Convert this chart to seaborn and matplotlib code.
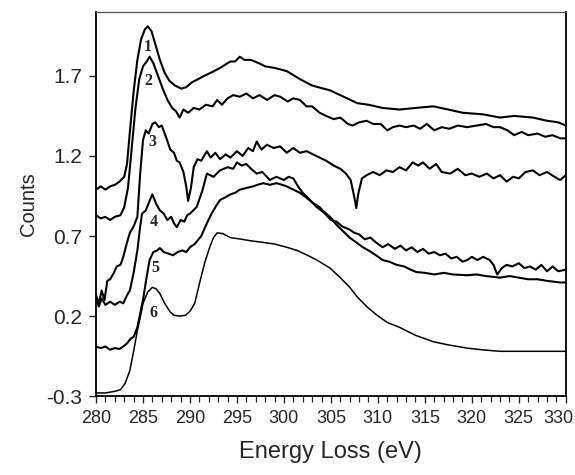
import matplotlib
matplotlib.use("Agg")
import matplotlib.pyplot as plt
from matplotlib.ticker import MultipleLocator, FixedLocator
from matplotlib.transforms import ScaledTranslation
import seaborn as sns
import pandas as pd

# ---- data ----
x1 = [280, 280.5, 281, 281.5, 282, 282.5, 283, 283.3, 283.6, 284, 284.4, 284.8, 285.2, 285.5, 285.9,
      286.3, 286.8, 287.3, 287.8, 288.4, 289.1, 289.6, 290.2, 290.7, 291.5, 292.4, 293.2, 294.3, 294.8,
      295.3, 295.8, 296.5, 297.3, 298, 299, 300.3, 301.7, 303, 304.9, 306, 307.8, 309, 310.5, 312.3,
      314, 315.9, 317.5, 319, 321.2, 323, 324.5, 326.5, 328, 329.2, 330]
y1 = [0.99, 1.01, 0.99, 1.01, 1.02, 1.04, 1.07, 1.15, 1.35, 1.60, 1.80, 1.93, 1.99, 2.01, 1.98,
      1.90, 1.80, 1.72, 1.67, 1.64, 1.62, 1.63, 1.66, 1.675, 1.70, 1.725, 1.75, 1.79, 1.79,
      1.82, 1.80, 1.80, 1.78, 1.76, 1.75, 1.73, 1.68, 1.64, 1.61, 1.58, 1.53, 1.52, 1.50, 1.49,
      1.50, 1.51, 1.49, 1.47, 1.46, 1.44, 1.45, 1.44, 1.42, 1.41, 1.39]

x2 = [280, 280.5, 281, 281.5, 282, 282.6, 283, 283.4, 283.8, 284.2, 284.6, 285, 285.4, 285.7, 286.1,
      286.6, 287.1, 287.6, 288.1, 288.5, 288.9, 289.3, 289.8, 290.4, 291, 291.7, 292.4, 292.9, 293.4,
      294, 294.6, 295.3, 296, 296.7, 297.4, 298.2, 299, 299.6, 300.4, 301, 301.7, 302.4, 303, 303.8,
      304.5, 305.3, 306, 306.8, 307.3, 308, 308.8, 309.5, 310.3, 311, 311.6, 312.3, 313, 313.8, 314.5,
      315.2, 316, 316.8, 317.6, 318.5, 319.5, 320.5, 321.5, 322.3, 323, 323.8, 324.5, 325.3, 326, 327,
      327.8, 328.6, 329.4, 330]
y2 = [0.83, 0.81, 0.82, 0.80, 0.82, 0.83, 0.88, 1.00, 1.25, 1.50, 1.68, 1.76, 1.79, 1.82, 1.78,
      1.70, 1.62, 1.55, 1.50, 1.48, 1.44, 1.49, 1.47, 1.50, 1.49, 1.52, 1.51, 1.55, 1.52,
      1.56, 1.58, 1.57, 1.59, 1.56, 1.58, 1.55, 1.58, 1.57, 1.54, 1.56, 1.55, 1.51, 1.51, 1.47,
      1.45, 1.43, 1.44, 1.40, 1.39, 1.41, 1.42, 1.40, 1.40, 1.36, 1.38, 1.39, 1.38, 1.39, 1.37,
      1.40, 1.36, 1.38, 1.37, 1.39, 1.38, 1.39, 1.40, 1.38, 1.38, 1.36, 1.33, 1.35, 1.33, 1.34,
      1.32, 1.33, 1.31, 1.31]

x3 = [280, 280.3, 280.6, 280.9, 281.2, 281.5, 281.9, 282.2, 282.6, 282.9, 283.3, 283.6, 284, 284.4,
      284.7, 285, 285.3, 285.6, 286, 286.3, 286.7, 287, 287.5, 287.9, 288.3, 288.6, 288.9, 289.3,
      289.6, 289.8, 290.1, 290.4, 290.8, 291.2, 291.8, 292.2, 292.7, 293.2, 293.8, 294.3, 295, 295.6,
      296.2, 296.7, 297.1, 297.6, 298.2, 298.9, 299.6, 300.3, 301, 301.7, 302.4, 303.1, 303.8, 304.5,
      305.3, 306, 306.6, 307.1, 307.5, 307.7, 307.9, 308.3, 308.8, 309.5, 310.2, 310.9, 311.6, 312.3,
      313, 313.7, 314.3, 314.8, 315.5, 316.2, 316.8, 317.7, 318.5, 319.3, 320, 320.8, 321.6, 322.3,
      323, 323.7, 324.4, 325, 325.7, 326.5, 327.2, 328, 328.8, 329.4, 330]
y3 = [0.33, 0.28, 0.36, 0.30, 0.42, 0.43, 0.47, 0.51, 0.52, 0.57, 0.66, 0.72, 0.76, 0.82,
      1.09, 1.30, 1.36, 1.34, 1.40, 1.41, 1.38, 1.39, 1.31, 1.24, 1.22, 1.17, 1.16, 1.10,
      1.01, 0.92, 1.00, 1.13, 1.18, 1.17, 1.23, 1.19, 1.22, 1.18, 1.21, 1.19, 1.23, 1.20,
      1.25, 1.23, 1.29, 1.24, 1.27, 1.25, 1.26, 1.22, 1.25, 1.22, 1.23, 1.21, 1.19, 1.17,
      1.14, 1.12, 1.09, 1.05, 0.94, 0.875, 0.96, 1.06, 1.08, 1.10, 1.08, 1.11, 1.10, 1.13,
      1.11, 1.16, 1.14, 1.16, 1.12, 1.15, 1.10, 1.09, 1.12, 1.08, 1.09, 1.07, 1.09, 1.06,
      1.08, 1.04, 1.07, 1.06, 1.10, 1.11, 1.08, 1.10, 1.07, 1.05, 1.08]

x4 = [280, 280.3, 280.6, 281, 281.5, 282, 282.5, 282.9, 283.3, 283.6, 284, 284.4, 284.7, 284.9,
      285.3, 285.7, 286, 286.4, 286.8, 287.2, 287.6, 288, 288.3, 288.6, 289, 289.4, 289.7, 290,
      290.7, 291.3, 291.8, 292.5, 293.2, 294, 294.6, 295, 295.5, 296, 296.5, 297.1, 297.7, 298.5,
      299.2, 300, 300.5, 301, 301.5, 302, 302.7, 303.5, 304.2, 305, 305.6, 306.2, 307, 307.5, 308,
      308.6, 309.2, 309.8, 310.5, 311.1, 311.8, 312.4, 313, 313.6, 314.2, 314.8, 315.4, 316, 316.6,
      317.2, 317.8, 318.4, 319, 319.5, 320, 320.6, 321.2, 321.9, 322.3, 322.7, 323.2, 323.7, 324.3,
      325, 325.6, 326.2, 326.8, 327.4, 328, 328.6, 329.2, 330]
y4 = [0.30, 0.26, 0.31, 0.27, 0.29, 0.27, 0.29, 0.28, 0.33, 0.36, 0.47, 0.61, 0.76, 0.84,
      0.86, 0.92, 0.96, 0.90, 0.86, 0.84, 0.80, 0.82, 0.78, 0.755, 0.80, 0.79, 0.83, 0.84,
      0.88, 0.98, 1.09, 1.07, 1.11, 1.13, 1.12, 1.16, 1.14, 1.15, 1.12, 1.09, 1.10, 1.05,
      1.07, 1.05, 1.07, 1.06, 1.01, 0.97, 0.93, 0.88, 0.85, 0.80, 0.79, 0.76, 0.74, 0.72, 0.71,
      0.68, 0.69, 0.66, 0.63, 0.65, 0.62, 0.64, 0.61, 0.63, 0.60, 0.62, 0.59, 0.60, 0.58,
      0.59, 0.56, 0.57, 0.54, 0.55, 0.57, 0.55, 0.57, 0.55, 0.52, 0.46, 0.50, 0.52, 0.51,
      0.53, 0.50, 0.51, 0.49, 0.52, 0.48, 0.51, 0.48, 0.49]

x5 = [280, 280.5, 281, 281.5, 282, 282.5, 282.9, 283.3, 283.7, 284, 284.4, 285, 285.4, 285.7, 286.1,
      286.5, 286.8, 287.2, 287.7, 288.2, 288.7, 289.2, 289.6, 290, 290.5, 291.2, 291.8, 292.3, 292.8,
      293.2, 293.7, 294.3, 294.8, 295.3, 296, 296.7, 297.2, 297.8, 298.5, 299.2, 299.8, 300.3, 301,
      301.7, 302.4, 303.1, 303.8, 304.3, 304.9, 305.6, 306.3, 307, 307.7, 308.4, 309, 309.8, 310.5,
      311.2, 312, 312.8, 313.5, 314.1, 315, 316, 317, 318, 319.5, 320.5, 321.5, 323, 324, 325, 326,
      327, 328, 329.4, 330]
y5 = [0.01, 0.00, 0.01, -0.01, 0.00, -0.005, 0.01, 0.03, 0.06, 0.07, 0.13, 0.30, 0.45, 0.55, 0.60,
      0.61, 0.625, 0.60, 0.59, 0.58, 0.60, 0.61, 0.60, 0.63, 0.65, 0.70, 0.78, 0.84, 0.89,
      0.925, 0.94, 0.96, 0.97, 0.99, 1.00, 1.01, 1.02, 1.03, 1.02, 1.03, 1.02, 1.01, 0.99,
      0.97, 0.94, 0.905, 0.88, 0.85, 0.82, 0.77, 0.73, 0.69, 0.66, 0.63, 0.61, 0.58, 0.55,
      0.54, 0.52, 0.51, 0.49, 0.475, 0.47, 0.46, 0.47, 0.46, 0.455, 0.46, 0.45, 0.44, 0.45, 0.44, 0.43,
      0.43, 0.42, 0.41, 0.41]

x6 = [280, 281, 282, 282.6, 283.1, 283.6, 284, 284.4, 284.7, 285, 285.5, 286, 286.4, 286.8, 287.3,
      287.9, 288.3, 288.9, 289.5, 290, 290.5, 291.1, 291.6, 292.1, 292.5, 292.9, 293.5, 294.3, 295.5,
      296.5, 297.8, 299, 300.3, 301.4, 302.5, 303.5, 304.9, 306, 307, 307.8, 308.8, 309.8, 311, 312.3,
      314, 315.9, 317.5, 319.5, 321, 323, 325, 327, 330]
y6 = [-0.28, -0.28, -0.27, -0.26, -0.22, -0.14, -0.02, 0.11, 0.19, 0.28, 0.35, 0.38, 0.37, 0.34, 0.28,
      0.225, 0.205, 0.20, 0.205, 0.23, 0.28, 0.425, 0.54, 0.63, 0.69, 0.72, 0.715, 0.69, 0.68,
      0.67, 0.66, 0.65, 0.63, 0.61, 0.58, 0.55, 0.50, 0.44, 0.38, 0.32, 0.26, 0.21, 0.16, 0.13,
      0.08, 0.04, 0.02, 0.00, -0.01, -0.02, -0.02, -0.02, -0.02]

curve_names = ["1", "2", "3", "4", "5", "6"]
label_x = [285.5, 285.6, 286.0, 286.1, 286.3, 286.1]
label_y = [1.88, 1.67, 1.29, 0.79, 0.50, 0.22]

x_ticks = [280, 285, 290, 295, 300, 305, 310, 315, 320, 325, 330]
y_ticks = [-0.3, 0.2, 0.7, 1.2, 1.7]
y_tick_labels = ["-0.3", "0.2", "0.7", "1.2", "1.7"]

# ---- build long-form table ----
frames = []
for name, xs, ys in zip(curve_names, [x1, x2, x3, x4, x5, x6], [y1, y2, y3, y4, y5, y6]):
    frames.append(pd.DataFrame({"energy": xs, "counts": ys, "spectrum": name}))
df = pd.concat(frames, ignore_index=True)

sns.set_style("ticks")
plt.rcParams["font.family"] = ["Liberation Sans", "DejaVu Sans"]

fig = plt.figure(figsize=(5.75, 4.75), dpi=100)
ax = fig.add_axes([0.167, 0.166, 0.817, 0.809])

sns.lineplot(data=df, x="energy", y="counts", hue="spectrum", units="spectrum",
             estimator=None, sort=False, palette=["black"] * 6, linewidth=1.5,
             legend=False, ax=ax)
for line in ax.get_lines()[5:6]:
    line.set_linewidth(1.1)

for name, lx, ly in zip(curve_names, label_x, label_y):
    ax.text(lx, ly, name, ha="center", va="center", fontsize=11.5, fontweight="bold",
            family=["Liberation Serif", "DejaVu Serif"])

ax.set_xlim(280, 330)
ax.set_ylim(-0.3, 2.1)
ax.xaxis.set_major_locator(FixedLocator(x_ticks))
ax.xaxis.set_minor_locator(MultipleLocator(1))
ax.yaxis.set_major_locator(FixedLocator(y_ticks))
ax.set_yticklabels(y_tick_labels)
ax.tick_params(axis="x", which="major", direction="out", length=5, width=1.0, labelsize=13, pad=5)
ax.tick_params(axis="x", which="minor", direction="out", length=4, width=0.9)
ax.tick_params(axis="y", which="major", direction="out", length=5, width=1.0, labelsize=15, pad=5)
ax.tick_params(axis="y", which="minor", left=False)

# keep the last x tick label inside the figure, as in the reference
last = ax.get_xticklabels()[-1]
last.set_transform(last.get_transform() + ScaledTranslation(-7 / 100, 0, fig.dpi_scale_trans))

for side in ["left", "bottom", "right"]:
    ax.spines[side].set_visible(True)
    ax.spines[side].set_linewidth(1.3)
    ax.spines[side].set_color("black")
ax.spines["top"].set_visible(True)
ax.spines["top"].set_linewidth(0.9)
ax.spines["top"].set_color("#555555")

ax.set_xlabel("Energy Loss (eV)", fontsize=17, labelpad=10)
ax.set_ylabel("Counts", fontsize=14.5, labelpad=6)

fig.savefig("out.png", dpi=100)
